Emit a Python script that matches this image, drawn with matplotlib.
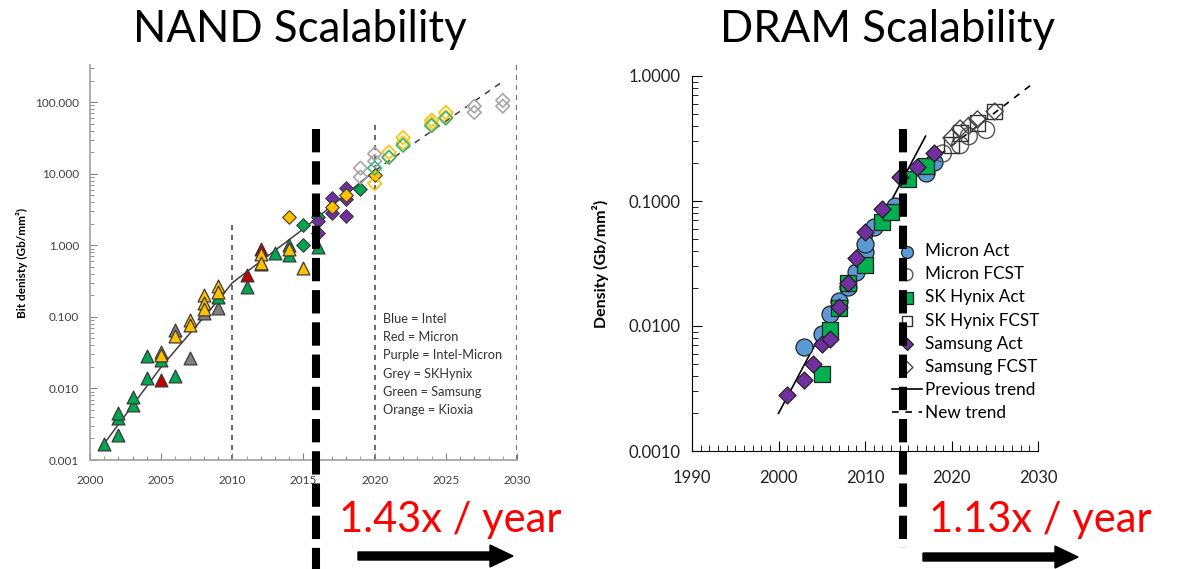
import numpy as np
import matplotlib
matplotlib.use("Agg")
import matplotlib.pyplot as plt
from matplotlib.lines import Line2D
from matplotlib.patches import FancyArrow
from matplotlib.transforms import IdentityTransform
from matplotlib.ticker import FuncFormatter, MultipleLocator, LogLocator, NullFormatter

plt.rcParams["font.family"] = ["Lato", "DejaVu Sans"]

W, H = 1178, 569

# ── NAND data ────────────────────────────────────────────────────────────────
green_tri_x = [2001, 2002, 2002, 2002, 2003, 2003, 2004, 2004, 2005, 2006, 2009, 2011, 2013, 2014, 2014, 2016]
green_tri_y = [0.0017, 0.0039, 0.0045, 0.0022, 0.0058, 0.0076, 0.0138, 0.028, 0.025, 0.0147, 0.19, 0.26, 0.77, 1.0, 0.73, 0.95]
yellow_tri_x = [2005, 2005, 2006, 2007, 2007, 2008, 2008, 2008, 2009, 2009, 2012, 2012, 2014, 2015]
yellow_tri_y = [0.032, 0.029, 0.054, 0.09, 0.076, 0.2, 0.155, 0.127, 0.27, 0.22, 0.75, 0.57, 0.9, 0.48]
red_tri_x = [2005, 2011, 2012, 2012]
red_tri_y = [0.0131, 0.38, 0.9, 0.55]
grey_tri_x = [2006, 2007, 2008, 2009]
grey_tri_y = [0.065, 0.027, 0.112, 0.135]

green_dia_x = [2015, 2015, 2016, 2019]
green_dia_y = [1.9, 1.02, 2.5, 6.2]
yellow_dia_x = [2014, 2017, 2018, 2020]
yellow_dia_y = [2.45, 3.4, 5.1, 9.5]
purple_dia_x = [2016, 2016, 2017, 2017, 2018, 2018, 2018]
purple_dia_y = [2.2, 1.5, 4.6, 2.8, 6.3, 4.4, 2.6]
grey_open_x = [2019, 2019, 2020, 2020, 2027, 2027, 2029, 2029]
grey_open_y = [12, 9, 19, 15, 88, 72, 106, 88]
yellow_open_x = [2020, 2021, 2021, 2022, 2022, 2024, 2024, 2025, 2025]
yellow_open_y = [7.3, 20, 17, 32, 27, 56, 50, 72, 62]
green_open_x = [2020, 2021, 2022, 2024, 2025]
green_open_y = [12, 17, 25, 47, 60]

nand_trend_x = [2001, 2005, 2009, 2010, 2012, 2015, 2020]
nand_trend_y = [0.0017, 0.02, 0.17, 0.3, 0.6, 1.7, 11]
nand_new_x = [2020, 2029]
nand_new_y = [11, 195]

nand_notes = ["Blue = Intel", "Red = Micron", "Purple = Intel-Micron",
              "Grey = SKHynix", "Green = Samsung", "Orange = Kioxia"]

# ── DRAM data ────────────────────────────────────────────────────────────────
micron_act_x = [2003, 2005, 2006, 2007, 2008, 2009, 2010, 2010, 2011, 2013.5, 2017, 2018]
micron_act_y = [0.0068, 0.0087, 0.0125, 0.0158, 0.0205, 0.027, 0.039, 0.045, 0.062, 0.092, 0.167, 0.205]
micron_fc_x = [2019, 2021, 2022, 2024]
micron_fc_y = [0.24, 0.28, 0.33, 0.37]
hynix_act_x = [2005, 2006, 2007, 2008, 2010, 2012, 2013, 2015, 2017]
hynix_act_y = [0.0041, 0.0093, 0.014, 0.022, 0.031, 0.068, 0.082, 0.15, 0.19]
hynix_fc_x = [2020, 2021, 2023, 2025]
hynix_fc_y = [0.28, 0.35, 0.42, 0.52]
samsung_act_x = [2001, 2003, 2004, 2005, 2006, 2007, 2008, 2009, 2010, 2012, 2014, 2016, 2018]
samsung_act_y = [0.0028, 0.0037, 0.005, 0.0072, 0.0079, 0.0142, 0.022, 0.035, 0.056, 0.087, 0.155, 0.187, 0.24]
samsung_fc_x = [2020, 2021, 2022, 2023, 2025]
samsung_fc_y = [0.32, 0.38, 0.40, 0.45, 0.52]

dram_prev_x = [2000, 2017]
dram_prev_y = [0.002, 0.33]
dram_new_x = [2015, 2029.5]
dram_new_y = [0.15, 0.88]

fig = plt.figure(figsize=(W / 100, H / 100), dpi=100)

# ── NAND panel ───────────────────────────────────────────────────────────────
ax1 = fig.add_axes([90 / W, 1 - 460 / H, 427 / W, 395 / H])
ax1.set_yscale("log")
ax1.set_xlim(2000, 2030)
ax1.set_ylim(0.001, 10 ** 2.52)

ax1.plot(nand_trend_x, nand_trend_y, color="#404040", lw=1.1, zorder=2)
ax1.plot(nand_new_x, nand_new_y, color="#404040", lw=1.1, ls=(0, (4, 4)), zorder=2)

for x, top in [(2010, 2.1), (2020, 51), (2030, 10 ** 2.52)]:
    ax1.plot([x, x], [0.001, top], color="#505050", lw=1.2, ls=(0, (3, 3)), zorder=1)

tri = dict(marker="^", s=85, edgecolors="#3a3a3a", linewidths=0.9, zorder=3)
ax1.scatter(grey_tri_x, grey_tri_y, color="#7f7f7f", **tri)
ax1.scatter(green_tri_x, green_tri_y, color="#00a650", **tri)
ax1.scatter(red_tri_x, red_tri_y, color="#c00000", **tri)
ax1.scatter(yellow_tri_x, yellow_tri_y, color="#ffc000", **tri)

dia = dict(marker="D", s=48, edgecolors="#3a3a3a", linewidths=0.8, zorder=3)
ax1.scatter(green_dia_x, green_dia_y, color="#00a650", **dia)
ax1.scatter(purple_dia_x, purple_dia_y, color="#7030a0", **dia)
ax1.scatter(yellow_dia_x, yellow_dia_y, color="#ffc000", **dia)

odia = dict(marker="D", s=48, facecolors="none", linewidths=1.2, zorder=3)
ax1.scatter(grey_open_x, grey_open_y, edgecolors="#a6a6a6", **odia)
ax1.scatter(yellow_open_x, yellow_open_y, edgecolors="#ffc000", **odia)
ax1.scatter(green_open_x, green_open_y, edgecolors="#33b87a", **odia)

for s in ["top", "right"]:
    ax1.spines[s].set_visible(False)
for s in ["left", "bottom"]:
    ax1.spines[s].set_color("#a0a0a0")
    ax1.spines[s].set_linewidth(1.2)
ax1.xaxis.set_major_locator(MultipleLocator(5))
ax1.xaxis.set_minor_locator(MultipleLocator(1))
ax1.yaxis.set_major_locator(LogLocator(base=10, numticks=10))
ax1.yaxis.set_minor_locator(LogLocator(base=10, subs=np.arange(2, 10), numticks=10))
ax1.yaxis.set_minor_formatter(NullFormatter())
ax1.yaxis.set_major_formatter(FuncFormatter(lambda v, p: f"{v:.3f}"))
ax1.tick_params(which="both", direction="in", color="#808080", labelsize=8.5,
                labelcolor="#404040")
ax1.tick_params(which="major", length=5)
ax1.tick_params(which="minor", length=3)
ax1.tick_params(axis="x", pad=11)
ax1.tick_params(axis="y", pad=8)
ax1.set_ylabel("Bit denisty (Gb/mm²)", fontsize=8.5, fontweight="bold", labelpad=5)

for i, t in enumerate(nand_notes):
    fig.text(383 / W, 1 - (319 + i * 18.2) / H, t, fontsize=9.2, color="#333333",
             ha="left", va="center")

# ── DRAM panel ───────────────────────────────────────────────────────────────
ax2 = fig.add_axes([692 / W, 1 - 451 / H, 346 / W, 375 / H])
ax2.set_yscale("log")
ax2.set_xlim(1990, 2030)
ax2.set_ylim(0.001, 1.0)

ax2.plot(dram_prev_x, dram_prev_y, color="black", lw=1.2, zorder=2, label="_nolegend_")
ax2.plot(dram_new_x, dram_new_y, color="black", lw=1.2, ls=(0, (4, 4)), zorder=2,
         label="_nolegend_")

h1 = ax2.scatter(micron_act_x, micron_act_y, marker="o", s=150, color="#5b9bd5",
                 edgecolors="#222222", linewidths=0.9, zorder=3, label="Micron Act")
h2 = ax2.scatter(micron_fc_x, micron_fc_y, marker="o", s=150, facecolors="none",
                 edgecolors="#555555", linewidths=1.0, zorder=3, label="Micron FCST")
h3 = ax2.scatter(hynix_act_x, hynix_act_y, marker="s", s=135, color="#00b050",
                 edgecolors="#222222", linewidths=0.9, zorder=3, label="SK Hynix Act")
h4 = ax2.scatter(hynix_fc_x, hynix_fc_y, marker="s", s=120, facecolors="none",
                 edgecolors="#333333", linewidths=1.0, zorder=3, label="SK Hynix FCST")
h5 = ax2.scatter(samsung_act_x, samsung_act_y, marker="D", s=75, color="#7030a0",
                 edgecolors="#222222", linewidths=0.9, zorder=4, label="Samsung Act")
h6 = ax2.scatter(samsung_fc_x, samsung_fc_y, marker="D", s=75, facecolors="none",
                 edgecolors="#444444", linewidths=1.0, zorder=4, label="Samsung FCST")
h7 = Line2D([], [], color="black", lw=1.2, label="Previous trend")
h8 = Line2D([], [], color="black", lw=1.2, ls=(0, (4, 4)), label="New trend")

for s in ["top", "right"]:
    ax2.spines[s].set_visible(False)
ax2.xaxis.set_major_locator(MultipleLocator(10))
ax2.xaxis.set_minor_locator(MultipleLocator(1))
ax2.yaxis.set_major_locator(LogLocator(base=10, numticks=10))
ax2.yaxis.set_minor_locator(LogLocator(base=10, subs=np.arange(2, 10), numticks=10))
ax2.yaxis.set_minor_formatter(NullFormatter())
ax2.yaxis.set_major_formatter(FuncFormatter(lambda v, p: f"{v:.4f}"))
ax2.tick_params(which="both", direction="in", labelsize=12, labelcolor="#222222", pad=8)
ax2.tick_params(which="major", length=7)
ax2.tick_params(which="minor", length=4)
ax2.tick_params(axis="x", pad=14)
ax2.set_ylabel("Density (Gb/mm²)", fontsize=11.5, fontweight="bold", labelpad=14)

leg = ax2.legend(handles=[h1, h2, h3, h4, h5, h6, h7, h8], loc="upper left",
                 bbox_to_anchor=(892 / W, 1 - 243 / H), bbox_transform=fig.transFigure,
                 frameon=False, fontsize=12.3, handlelength=1.75, handletextpad=0.2,
                 labelspacing=0.42, borderpad=0, borderaxespad=0, markerscale=0.7)

# ── titles, guides and annotations ───────────────────────────────────────────
fig.text(300 / W, 1 - 30 / H, "NAND Scalability", fontsize=31.5, ha="center", va="center")
fig.text(888 / W, 1 - 30 / H, "DRAM Scalability", fontsize=31.5, ha="center", va="center")

for xp, y0, y1 in [(316, 129, 569), (903, 129, 548)]:
    fig.add_artist(Line2D([xp / W, xp / W], [1 - y0 / H, 1 - y1 / H],
                          transform=fig.transFigure, color="black", lw=5.8,
                          ls=(0, (2.9, 1.1)), solid_capstyle="butt", zorder=10))

fig.text(339 / W, 1 - 520 / H, "1.43x / year", fontsize=30, color="#ff0000",
         ha="left", va="center")
fig.text(929 / W, 1 - 520 / H, "1.13x / year", fontsize=30, color="#ff0000",
         ha="left", va="center")

for x0, x1, yp in [(358, 513, 556), (923, 1078, 557)]:
    fig.add_artist(FancyArrow(x0, H - yp, x1 - x0, 0, width=8, head_width=22,
                              head_length=23, length_includes_head=True,
                              transform=IdentityTransform(), color="black", zorder=10))

fig.savefig("out.png", dpi=100)
